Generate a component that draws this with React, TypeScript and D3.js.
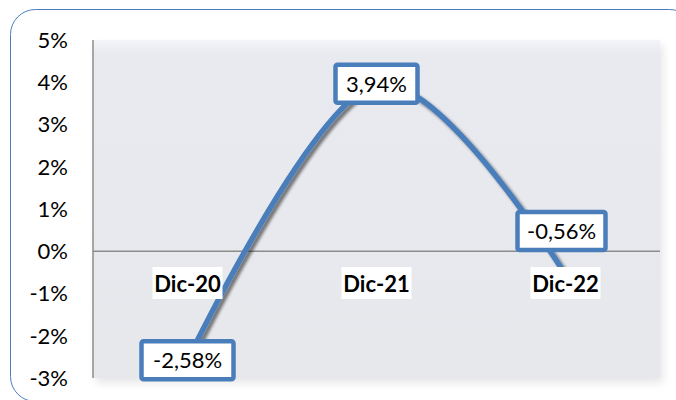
import React from "react";
import * as d3 from "d3";

const categories = ["Dic-20", "Dic-21", "Dic-22"];
const values = [-2.58, 3.94, -0.56];
const valueLabels = ["-2,58%", "3,94%", "-0,56%"];
const yTicks = [5, 4, 3, 2, 1, 0, -1, -2, -3];

const W = 676;
const H = 400;
const plot = { left: 93, right: 660, top: 40, bottom: 378 };
const FONT = "Lato, 'Open Sans', sans-serif";
const BLUE = "#4a7ebb";

export default function App() {
  const x = d3
    .scaleBand<string>()
    .domain(categories)
    .range([plot.left, plot.right]);
  const y = d3.scaleLinear().domain([-3, 5]).range([plot.bottom, plot.top]);
  const cx = (c: string) => (x(c) as number) + x.bandwidth() / 2;

  const pts: [number, number][] = categories.map((c, i) => [cx(c), y(values[i])]);
  const line = d3
    .line<[number, number]>()
    .x((d) => d[0])
    .y((d) => d[1])
    .curve(d3.curveCardinal.tension(0));
  const path = line(pts) || "";

  // label offsets (relative to the point)
  const labelDy = [0, -1, -44];
  const labelDx = [0, 0, -4];
  const boxW = [92, 82, 88];

  return (
    <svg
      width={W}
      height={H}
      style={{ position: "absolute", left: 0, top: 0 }}
      fontFamily={FONT}
    >
      <defs>
        <linearGradient id="bg" x1="0" y1="0" x2="0" y2="1">
          <stop offset="0" stopColor="#f3f5f9" />
          <stop offset="0.04" stopColor="#e9eaef" />
          <stop offset="1" stopColor="#e7e8ec" />
        </linearGradient>
        <filter id="plotShadow" x="-5%" y="-5%" width="115%" height="120%">
          <feGaussianBlur in="SourceAlpha" stdDeviation="4" />
          <feOffset dx="3" dy="5" result="b" />
          <feComponentTransfer>
            <feFuncA type="linear" slope="0.1" />
          </feComponentTransfer>
          <feMerge>
            <feMergeNode />
            <feMergeNode in="SourceGraphic" />
          </feMerge>
        </filter>
        <filter id="lineShadow" x="-10%" y="-10%" width="130%" height="130%">
          <feGaussianBlur in="SourceAlpha" stdDeviation="1.5" />
          <feOffset dx="3" dy="3" result="b" />
          <feComponentTransfer>
            <feFuncA type="linear" slope="0.5" />
          </feComponentTransfer>
          <feMerge>
            <feMergeNode />
            <feMergeNode in="SourceGraphic" />
          </feMerge>
        </filter>
      </defs>
      <rect x={0} y={0} width={W} height={H} fill="#ffffff" />
      <rect
        x={10.5}
        y={9.5}
        width={684}
        height={392}
        rx={25}
        ry={25}
        fill="#ffffff"
        stroke={BLUE}
        strokeWidth={1}
      />
      <rect
        x={plot.left}
        y={plot.top}
        width={plot.right - plot.left}
        height={plot.bottom - plot.top}
        fill="url(#bg)"
        filter="url(#plotShadow)"
      />
      {/* y axis */}
      <line
        x1={plot.left}
        x2={plot.left}
        y1={plot.top}
        y2={plot.bottom}
        stroke="#8c8c8c"
        strokeWidth={1.5}
      />
      <line
        x1={plot.left}
        x2={plot.right}
        y1={y(0)}
        y2={y(0)}
        stroke="#8c8c8c"
        strokeWidth={1.5}
      />
      {yTicks.map((t) => (
        <text
          key={t}
          x={68}
          y={y(t)}
          dy="0.36em"
          textAnchor="end"
          fontSize={22}
          fill="#000"
        >
          {t + "%"}
        </text>
      ))}
      <path
        d={path}
        fill="none"
        stroke={BLUE}
        strokeWidth={5.5}
        strokeLinecap="butt"
        filter="url(#lineShadow)"
      />
      {/* category labels */}
      {categories.map((c) => (
        <g key={c}>
          <rect x={cx(c) - 35} y={267} width={70} height={32} fill="#ffffff" />
          <text
            x={cx(c)}
            y={292}
            textAnchor="middle"
            fontSize={22}
            fontWeight="bold"
            fill="#000"
          >
            {c}
          </text>
        </g>
      ))}
      {pts.map((p, i) => {
        const bx = p[0] + labelDx[i];
        const by = p[1] + labelDy[i];
        return (
          <g key={i}>
            <rect
              x={bx - boxW[i] / 2}
              y={by - 19}
              width={boxW[i]}
              height={38}
              fill="#ffffff"
              stroke={BLUE}
              strokeWidth={4.5}
              rx={2}
            />
            <text
              x={bx}
              y={by}
              dy="0.36em"
              textAnchor="middle"
              fontSize={22}
              fill="#000"
            >
              {valueLabels[i]}
            </text>
          </g>
        );
      })}
    </svg>
  );
}
